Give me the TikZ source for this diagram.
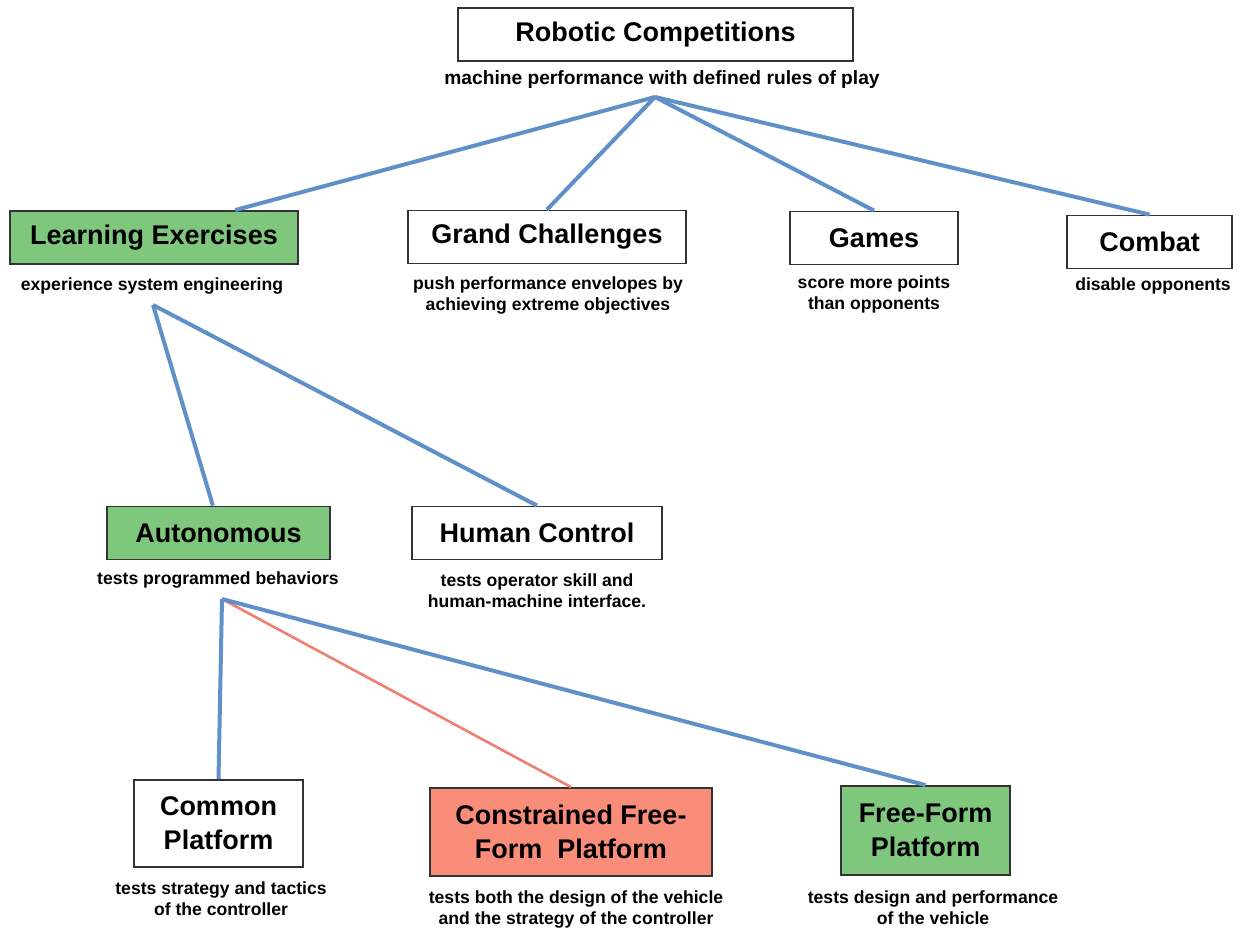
\documentclass[tikz,border=0pt]{standalone}
\usepackage{fontspec}
\setmainfont{Liberation Sans}
\usetikzlibrary{calc}
\definecolor{boxgreen}{RGB}{126,199,124}
\definecolor{boxsalmon}{RGB}{250,140,122}
\definecolor{linkblue}{RGB}{96,144,200}
\definecolor{linkred}{RGB}{238,128,112}
\begin{document}
\begin{tikzpicture}[x=0.5pt,y=-0.5pt]
  \tikzstyle{category}=[draw=black!80,line width=0.9pt,align=center,inner sep=2pt,
                        font=\bfseries\fontsize{13.5}{17}\selectfont,minimum height=26.5pt]
  \tikzstyle{remark}=[align=center,inner sep=1pt,font=\bfseries\fontsize{8.8}{10.5}\selectfont]
  \tikzstyle{link}=[draw=linkblue,line width=2pt]
  \tikzstyle{redlink}=[draw=linkred,line width=1.3pt]
  \useasboundingbox (0,0) rectangle (1241,940);
  % top level
  \node[category,minimum width=197.5pt] (rc) at (655.5,34.5) {Robotic Competitions};
  \node[remark,font=\bfseries\fontsize{9.6}{10.5}\selectfont] (rcnote) at (662,80) {machine performance with defined rules of play};
  \coordinate (rchub) at (655,97);
  % kinds of competition
  \node[category,fill=boxgreen,minimum width=144pt] (le) at (154,237.5) {Learning Exercises};
  \node[remark] (lenote) at (152,286) {experience system engineering};
  \node[category,minimum width=139pt] (gc) at (547,237) {Grand Challenges};
  \node[remark] (gcnote) at (548,295) {push performance envelopes by\\achieving extreme objectives};
  \node[category,minimum width=84pt] (games) at (874,238) {Games};
  \node[remark] (gamesnote) at (874,294) {score more points\\than opponents};
  \node[category,minimum width=82.5pt] (combat) at (1149.5,242) {Combat};
  \node[remark] (combatnote) at (1153,286) {disable opponents};
  \coordinate (lehub) at (153,305);
  % control
  \node[category,fill=boxgreen,minimum width=111.5pt] (auto) at (218.5,533) {Autonomous};
  \node[remark] (autonote) at (218,580) {tests programmed behaviors};
  \node[category,minimum width=125pt] (human) at (537,533) {Human Control};
  \node[remark] (humannote) at (537,591) {tests operator skill and\\human-machine interface.};
  \coordinate (autohub) at (222,599);
  % platforms
  \node[category,minimum width=84.5pt,minimum height=43.5pt] (common) at (218.5,823.5) {Common\\Platform};
  \node[remark] (commonnote) at (221,899) {tests strategy and tactics\\of the controller};
  \node[category,fill=boxsalmon,minimum width=141pt,minimum height=44pt] (constr) at (571,832) {Constrained Free-\\Form~~Platform};
  \node[remark] (constrnote) at (576,909) {tests both the design of the vehicle\\and the strategy of the controller};
  \node[category,fill=boxgreen,minimum width=84.5pt,minimum height=44.5pt] (free) at (925.5,830.5) {Free-Form\\Platform};
  \node[remark] (freenote) at (933,908) {tests design and performance\\of the vehicle};
  % connectors
  \draw[link] (rchub) -- ($(le.north west)!0.78!(le.north east)$);
  \draw[link] (rchub) -- (gc.north);
  \draw[link] (rchub) -- (games.north);
  \draw[link] (rchub) -- (combat.north);
  \draw[link] (lehub) -- ($(auto.north west)!0.475!(auto.north east)$);
  \draw[link] (lehub) -- (human.north);
  \draw[link] (autohub) -- (common.north);
  \draw[redlink] (autohub) -- (constr.north);
  \draw[link] (autohub) -- (free.north);
\end{tikzpicture}
\end{document}
